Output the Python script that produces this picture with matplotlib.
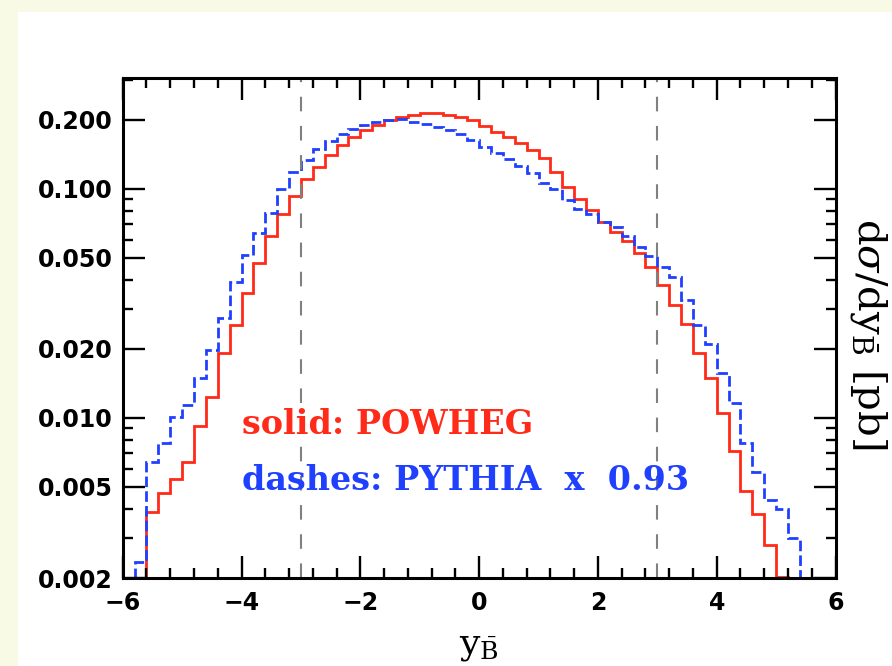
import matplotlib
matplotlib.use("Agg")
import matplotlib.pyplot as plt
from matplotlib.patches import Rectangle
import numpy as np

plt.rcParams['mathtext.fontset'] = 'dejavuserif'

# POWHEG (solid, red): bin contents, bins of 0.2 from -5.6 to 5.2
powheg_edges = np.round(np.arange(-5.6, 5.21, 0.2), 1)
powheg = [0.0039, 0.0047, 0.0054, 0.0064, 0.0092, 0.0124, 0.0192, 0.0255, 0.0352, 0.0473,
          0.0623, 0.0778, 0.0932, 0.110, 0.125, 0.141, 0.156, 0.169, 0.181, 0.190,
          0.199, 0.206, 0.210, 0.214, 0.214, 0.210, 0.206, 0.199, 0.188, 0.178,
          0.168, 0.158, 0.148, 0.136, 0.118, 0.102, 0.090, 0.081, 0.072, 0.065,
          0.059, 0.0523, 0.0457, 0.0380, 0.0311, 0.0257, 0.0193, 0.0149, 0.0105, 0.0072,
          0.0048, 0.0038, 0.0028, 0.00202]

# PYTHIA x 0.93 (dashed, blue): bins of 0.2 from -5.8 to 5.4
pythia_edges = np.round(np.arange(-5.8, 5.41, 0.2), 1)
pythia = [0.00234, 0.0064, 0.0078, 0.0101, 0.0114, 0.0149, 0.0198, 0.0272, 0.0394, 0.0514,
          0.0644, 0.0788, 0.0996, 0.118, 0.134, 0.149, 0.162, 0.174, 0.182, 0.190,
          0.195, 0.200, 0.201, 0.196, 0.192, 0.187, 0.181, 0.174, 0.164,
          0.153, 0.143, 0.135, 0.126, 0.117, 0.106, 0.0996, 0.0895, 0.082, 0.078,
          0.072, 0.068, 0.062, 0.056, 0.051, 0.0457, 0.0414, 0.0327, 0.0254, 0.0210,
          0.0157, 0.0116, 0.00775, 0.0058, 0.0044, 0.0040, 0.0030]

cut_lines = [-3, 3]
yticks = [0.002, 0.005, 0.010, 0.020, 0.050, 0.100, 0.200]
ytick_labels = ["0.002", "0.005", "0.010", "0.020", "0.050", "0.100", "0.200"]
xticks = [-6, -4, -2, 0, 2, 4, 6]
xtick_labels = ["\u22126", "\u22124", "\u22122", "0", "2", "4", "6"]

red = '#ff2a18'
blue = '#2040ff'

fig = plt.figure(figsize=(8.92, 6.66), dpi=100)
fig.patch.set_facecolor('#f8fae6')
fig.add_artist(Rectangle((18 / 892, 0), 1, 1 - 12 / 666, transform=fig.transFigure,
                         facecolor='white', edgecolor='none', zorder=-10))

ax = fig.add_axes([0.1376, 0.1321, 0.7991, 0.7508])
ax.set_yscale('log')
ax.set_xlim(-6, 6)
ax.set_ylim(0.002, 0.305)

ax.stairs(powheg, powheg_edges, baseline=1e-4, color=red, lw=2.0)
ax.stairs(pythia, pythia_edges, baseline=1e-4, color=blue, lw=2.0,
          linestyle=(0, (3.8, 1.5)))

for xc in cut_lines:
    ax.axvline(xc, color='#808080', lw=1.5, linestyle=(0, (7, 7)))

# ticks
ax.set_xticks(xticks, xtick_labels)
ax.set_xticks(np.arange(-6, 6.01, 0.4), minor=True)
ax.set_yticks(yticks, ytick_labels)
ax.yaxis.set_minor_formatter(plt.NullFormatter())
ax.tick_params(which='both', direction='in', top=True, right=True, width=1.7)
ax.tick_params(which='major', length=16)
ax.tick_params(which='minor', length=7)
ax.tick_params(axis='x', which='major', pad=9, labelsize=17)
ax.tick_params(axis='y', which='major', pad=7, labelsize=17)
for lab in ax.get_xticklabels() + ax.get_yticklabels():
    lab.set_fontweight('bold')
    lab.set_family('DejaVu Sans')
for sp in ax.spines.values():
    sp.set_linewidth(2.2)

# labels
ax.text(-4.0, 0.00852, 'solid: POWHEG', color=red, fontsize=24, family='DejaVu Serif',
        fontweight='bold', va='baseline', ha='left')
ax.text(-4.0, 0.00484, 'dashes: PYTHIA  x  0.93', color=blue, fontsize=24, family='DejaVu Serif',
        fontweight='bold', va='baseline', ha='left')

fig.text(479 / 892, 3 / 666, r'$\mathrm{y}_{\bar{\mathrm{B}}}$', fontsize=26,
         ha='center', va='bottom')
fig.text(869 / 892, 1 - 334 / 666, r'd$\sigma$/dy$_{\bar{\mathrm{B}}}$ [pb]',
         rotation=270, fontsize=29, family='DejaVu Serif',
         ha='center', va='center')

fig.savefig('out.png', dpi=100, facecolor=fig.get_facecolor())
